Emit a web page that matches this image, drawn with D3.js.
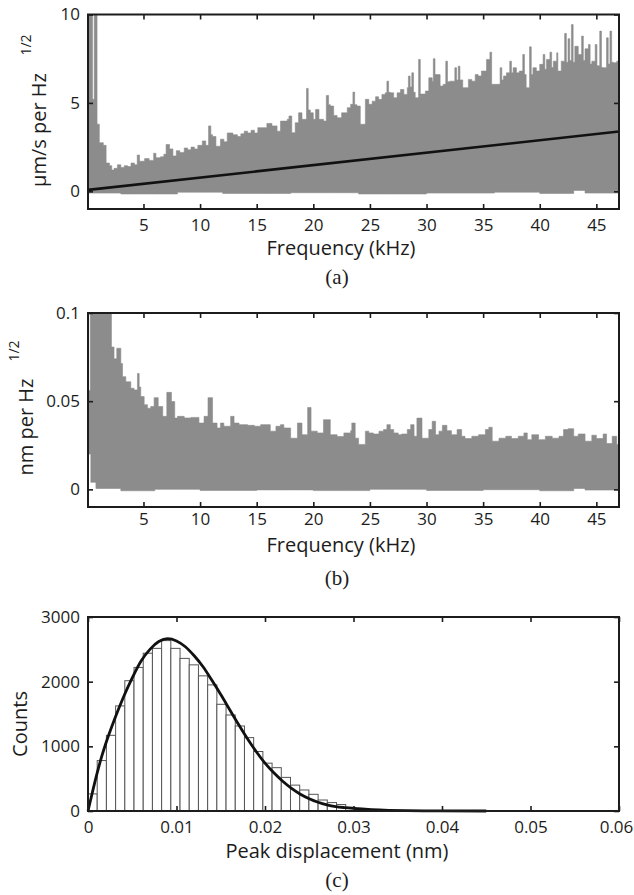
<!DOCTYPE html>
<html>
<head>
<meta charset="utf-8">
<script src="https://cdn.jsdelivr.net/npm/d3@7"></script>
<style>
  body { margin: 0; background: #fff; }
  text { font-family: "Open Sans", "DejaVu Sans", sans-serif; }
  text.cap { font-family: "Liberation Serif", "DejaVu Serif", serif; }
</style>
</head>
<body>
<svg id="fig" width="634" height="895"></svg>
<script>
// ---- data ----
// (a) velocity spectrum, upper / lower edge of the grey band [kHz, um/s per Hz^1/2]
const freqTicks = [5, 10, 15, 20, 25, 30, 35, 40, 45]
const velTicks = [0, 5, 10]
const velUpper = [[0.1,11],[0.5,5.2],[0.65,11],[0.9,3.8],[1.1,2.75],[1.45,2.6],[1.7,1.6],[2.0,1.45],[2.2,1.2],[2.4,1.3],[2.7,1.5],[3.0,1.35],[3.3,1.45],[3.6,1.4],[3.9,1.6],[4.2,1.5],[4.45,2.05],[4.65,1.7],[5.1,1.85],[5.5,1.75],[5.9,2.15],[6.1,1.9],[6.5,1.95],[6.8,2.1],[7.0,2.65],[7.3,2.4],[7.6,2.0],[7.9,2.3],[8.2,2.2],[8.6,2.45],[8.9,2.35],[9.2,2.5],[9.5,2.4],[9.8,2.6],[10.2,2.85],[10.5,2.6],[10.75,3.7],[10.95,3.2],[11.1,3.1],[11.4,2.55],[11.8,2.95],[12.1,2.8],[12.4,3.3],[12.9,3.2],[13.3,3.1],[13.6,3.25],[13.9,3.4],[14.2,3.3],[14.5,3.45],[14.8,3.3],[15.1,3.6],
  [15.47,3.6],[15.9,3.84],[16.35,3.7],[16.8,3.4],[17.1,3.97],[17.7,4.07],[17.85,4.26],[18.1,3.31],[18.4,3.88],[18.7,4.44],[19.0,4.07],[19.4,5.82],[19.55,4.6],[19.74,4.44],[20.0,4.07],[20.2,4.63],[20.5,4.07],[20.9,3.97],[21.15,5.42],[21.35,4.9],[21.5,4.82],[21.8,4.29],[22.1,4.16],[22.5,4.44],[23.0,4.73],[23.3,4.92],[23.5,5.61],[23.65,4.9],[23.85,4.82],[24.15,3.79],[24.6,5.2],[24.9,4.92],[25.2,5.1],[25.5,5.35],[25.76,5.2],[26.06,5.48],[26.35,5.57],[26.5,6.23],[26.65,5.6],[26.8,5.57],[27.1,5.29],[27.4,5.57],[27.7,5.76],[28.0,5.48],[28.3,5.86],[28.4,6.52],[28.55,5.9],[28.7,6.7],[28.85,5.6],[29.0,5.29],[29.3,7.46],[29.45,5.5],[29.9,5.67],[30.2,6.42],[30.5,6.23],[30.6,7.5],[30.75,6.6],[31.2,5.95],
  [31.47,6.05],[31.7,7.36],[31.85,6.2],[32.06,6.23],[32.5,6.99],[32.65,6.3],[32.8,7.08],[32.95,6.3],[33.2,5.86],[33.7,6.33],[34.0,6.23],[34.3,6.6],[34.56,6.52],[34.85,6.8],[35.3,7.46],[35.6,7.87],[35.75,6.05],[36.5,6.99],[36.65,6.3],[36.8,6.52],[37.06,6.7],[37.35,7.36],[37.5,6.7],[37.65,6.99],[37.94,6.7],[38.2,6.8],[38.5,7.74],[38.65,6.6],[38.8,5.86],[39.1,8.17],[39.25,6.6],[39.4,6.99],[39.7,6.8],[40.0,7.18],[40.3,7.74],[40.45,6.9],[40.6,7.46],[40.9,7.87],[41.05,7.0],[41.2,7.36],[41.5,7.83],[41.6,6.8],[41.9,7.36],[42.2,8.93],[42.35,7.3],[42.5,8.63],[42.65,7.4],[42.8,9.43],[42.95,7.3],[43.1,8.2],[43.4,7.74],[43.7,8.78],[43.85,7.4],[44.0,8.06],[44.3,8.3],[44.45,7.2],[44.6,7.36],[44.9,8.3],[45.05,7.1],[45.3,9.06],[45.45,7.0],[45.6,6.99],[45.9,8.68],[46.05,7.2],[46.2,9.06],[46.35,7.3],[46.5,7.27],[46.8,7.36],[47,7.36]]
const velLower = [[0.1,-0.1],[3,-0.15],[8,-0.05],[12,-0.12],[18,-0.08],[24,-0.15],[30,-0.1],[36,-0.05],[40,-0.12],[43,0.05],[44,-0.1],[47,-0.12]]
const velTrend = [[0.1,0.08],[47,3.38]]

// (b) displacement spectrum [kHz, nm per Hz^1/2]
const dispTicks = [0, 0.05, 0.1]
const dispUpper = [[0.1,0.056],[0.3,0.11],[2.17,0.0807],[2.4,0.074],[2.64,0.080],[3.0,0.0713],[3.15,0.0639],[3.44,0.061],[3.88,0.0573],[4.17,0.0564],[4.47,0.0657],[4.62,0.058],[4.76,0.0526],[5.06,0.048],[5.35,0.046],[5.64,0.047],[5.94,0.052],[6.3,0.047],[6.7,0.0414],[7.06,0.055],[7.47,0.0498],[7.76,0.0404],[8.0,0.0414],[8.6,0.0405],[9.2,0.0408],[9.9,0.0376],[10.35,0.0414],[10.7,0.052],[11.1,0.0376],[11.5,0.0348],[11.8,0.0376],[12.1,0.0358],[12.7,0.0414],[13.0,0.0376],[13.44,0.0367],[14.2,0.0363],[14.8,0.0358],[15.35,0.0367],[16.2,0.033],[16.7,0.0358],[17.1,0.0367],[17.4,0.0348],[18.0,0.029],[18.6,0.0376],[19.0,0.031],[19.5,0.0464],[19.8,0.033],[20.35,0.032],[20.9,0.0395],[21.5,0.031],[22.1,0.030],[22.7,0.032],[23.3,0.0333],[23.4,0.0376],[23.7,0.029],[24.0,0.0255],[24.6,0.033],[24.9,0.032],[25.3,0.0314],[25.8,0.033],[26.2,0.0339],[26.5,0.0367],[26.8,0.0339],[27.1,0.032],[27.5,0.031],[27.8,0.0314],[28.3,0.0339],[28.6,0.0367],[28.9,0.0301],[29.15,0.0404],[29.6,0.029],[30.2,0.0339],[30.5,0.0386],[30.8,0.031],[31.1,0.033],[31.4,0.0363],[31.8,0.0333],[32.2,0.031],[32.7,0.0339],[33.1,0.0301],[33.4,0.0288],[34.0,0.0301],[34.6,0.031],[35.2,0.0339],[35.5,0.0352],[35.8,0.0273],[36.4,0.029],[37.0,0.0301],[37.5,0.0288],[38.1,0.0301],[38.6,0.032],[38.9,0.0282],[39.3,0.031],[39.9,0.0282],[40.5,0.0301],[41.1,0.029],[41.7,0.0301],[42.1,0.0339],[42.5,0.0344],[43.0,0.0301],[43.4,0.0314],[44.0,0.0273],[44.6,0.0307],[45.0,0.0288],[45.6,0.0314],[45.9,0.026],[46.4,0.0301],[46.8,0.0255],[47,0.0255]]
const dispLower = [[0.1,0.02],[0.35,0.004],[0.8,0.0005],[3,-0.0008],[6,0],[10,-0.0006],[15,-0.0003],[20,-0.0007],[25,0],[30,-0.0006],[35,-0.0002],[40,-0.0008],[43,0.0005],[44,-0.0004],[47,-0.0004]]

// (c) histogram of peak displacement
const peakTicks = [0, 0.01, 0.02, 0.03, 0.04, 0.05, 0.06]
const countTicks = [0, 1000, 2000, 3000]
const binStart = 0
const binWidth = 0.00104
const binCounts = [265,780,1170,1625,2015,2220,2440,2515,2635,2515,2360,2260,2090,1950,1650,1485,1315,1135,920,740,670,520,400,325,258,170,130,100,57,36,25,15,9,5,3]
const fitCurve = [[0,0],[0.0005,290],[0.001,570],[0.0015,820],[0.002,1040],[0.003,1420],[0.004,1760],[0.005,2060],[0.006,2320],[0.007,2500],[0.008,2620],[0.009,2665],[0.010,2630],[0.011,2540],[0.012,2400],[0.013,2230],[0.014,2020],[0.015,1800],[0.016,1570],[0.017,1340],[0.018,1120],[0.019,920],[0.020,740],[0.021,590],[0.022,460],[0.023,350],[0.024,260],[0.025,190],[0.026,135],[0.027,95],[0.028,68],[0.029,52],[0.030,40],[0.032,22],[0.034,11],[0.036,5],[0.038,2],[0.040,1],[0.045,0]]

// ---- drawing ----
const svg = d3.select("#fig")
const left = 88, right = 619
const ink = "#1c1c1c", band = "#8c8c8c"

function styleAxis(sel) {
    sel.select(".domain").remove()
    sel.selectAll("line").attr("stroke", ink).attr("stroke-width", 1.6)
    sel.selectAll("text").attr("font-size", 17).attr("fill", ink)
}

function axes(g, x, y, xt, yt, top, bottom, xPad) {
    const bottomAxis = g.append("g").attr("transform", `translate(0,${bottom})`)
        .call(d3.axisBottom(x).tickValues(xt).tickSize(-5).tickPadding(xPad).tickFormat(d => String(d))).call(styleAxis)
    // last label sits against the page edge, nudge it in like the original
    bottomAxis.selectAll(".tick text").filter((d, i, n) => i === n.length - 1 && x(d) > right - 2).attr("dx", -3)
    g.append("g").attr("transform", `translate(0,${top})`)
        .call(d3.axisTop(x).tickValues(xt).tickSize(-5).tickFormat("")).call(styleAxis)
    g.append("g").attr("transform", `translate(${left},0)`)
        .call(d3.axisLeft(y).tickValues(yt).tickSize(-5).tickPadding(8).tickFormat(d => String(d))).call(styleAxis)
    g.append("g").attr("transform", `translate(${right},0)`)
        .call(d3.axisRight(y).tickValues(yt).tickSize(-5).tickFormat("")).call(styleAxis)
    g.append("rect")
        .attr("x", left).attr("y", top).attr("width", right - left).attr("height", bottom - top)
        .attr("fill", "none").attr("stroke", ink).attr("stroke-width", 2)
}

function labels(g, p) {
    g.append("text").attr("x", p.titleX).attr("y", p.titleY).attr("text-anchor", "middle")
        .attr("font-size", 20).attr("fill", ink).text(p.title)
    g.append("text").attr("class", "cap").attr("x", 337).attr("y", p.capY).attr("text-anchor", "middle")
        .attr("font-size", 21).attr("fill", ink).text(p.cap)
    g.append("text").attr("transform", `translate(${p.yLabX},${p.yLabY}) rotate(-90)`).attr("text-anchor", "middle")
        .attr("font-size", 20).attr("fill", ink).text(p.yLab)
    if (p.sup) {
        g.append("text").attr("transform", `translate(${p.supX},${p.supY}) rotate(-90)`).attr("text-anchor", "middle")
            .attr("font-size", 14).attr("fill", ink).text(p.sup)
    }
}

function spectrum(p) {
    const g = svg.append("g")
    const x = d3.scaleLinear().domain([0.1, 47]).range([left, right])
    const y = d3.scaleLinear().domain(p.yDomain).range([p.bottom, p.top])
    const clipId = "clip-" + p.cap.replace(/\W/g, "")
    g.append("clipPath").attr("id", clipId).append("rect")
        .attr("x", left).attr("y", p.top).attr("width", right - left).attr("height", p.bottom - p.top)

    // put upper and lower edges on one frequency grid (both are step functions)
    const bis = d3.bisector(d => d[0]).right
    const at = (arr, f) => arr[Math.max(0, bis(arr, f) - 1)][1]
    const grid = Array.from(new Set(p.upper.map(d => d[0]).concat(p.lower.map(d => d[0])))).sort((a, b) => a - b)
    const pts = grid.map(f => [f, at(p.upper, f), at(p.lower, f)])

    const area = d3.area().curve(d3.curveStepAfter)
        .x(d => x(d[0])).y0(d => y(d[2])).y1(d => y(d[1]))
    g.append("path").datum(pts).attr("clip-path", `url(#${clipId})`)
        .attr("d", area).attr("fill", band).attr("stroke", band).attr("stroke-width", 0.6)

    if (p.trend) {
        g.append("path").datum(p.trend).attr("clip-path", `url(#${clipId})`)
            .attr("d", d3.line().x(d => x(d[0])).y(d => y(d[1])))
            .attr("fill", "none").attr("stroke", "#111").attr("stroke-width", 2.6)
    }
    axes(g, x, y, freqTicks, p.yTicks, p.top, p.bottom, p.xPad)
    labels(g, p)
}

spectrum({
    top: 14.5, bottom: 209, yDomain: [-1, 10], yTicks: velTicks,
    upper: velUpper, lower: velLower, trend: velTrend, xPad: 10,
    title: "Frequency (kHz)", titleX: 341, titleY: 255, cap: "(a)", capY: 284,
    yLab: "\u00b5m/s per Hz", yLabX: 46, yLabY: 130, sup: "1/2", supX: 31, supY: 45
})

spectrum({
    top: 313, bottom: 507, yDomain: [-0.01, 0.1], yTicks: dispTicks,
    upper: dispUpper, lower: dispLower, xPad: 6,
    title: "Frequency (kHz)", titleX: 341, titleY: 552, cap: "(b)", capY: 585,
    yLab: "nm per Hz", yLabX: 33, yLabY: 427, sup: "1/2", supX: 19, supY: 351
})

// histogram panel
{
    const top = 617, bottom = 811
    const g = svg.append("g")
    const x = d3.scaleLinear().domain([0, 0.06]).range([left, right])
    const y = d3.scaleLinear().domain([0, 3000]).range([bottom, top])

    g.selectAll("rect.bin").data(binCounts).join("rect").attr("class", "bin")
        .attr("x", (d, i) => x(binStart + i * binWidth))
        .attr("width", x(binWidth) - x(0))
        .attr("y", d => y(d))
        .attr("height", d => y(0) - y(d))
        .attr("fill", "#fff").attr("stroke", "#555").attr("stroke-width", 1)

    g.append("path").datum(fitCurve)
        .attr("d", d3.line().curve(d3.curveMonotoneX).x(d => x(d[0])).y(d => y(d[1])))
        .attr("fill", "none").attr("stroke", "#111").attr("stroke-width", 2.8)

    axes(g, x, y, peakTicks, countTicks, top, bottom, 10)
    labels(g, {
        title: "Peak displacement (nm)", titleX: 337, titleY: 858, cap: "(c)", capY: 887,
        yLab: "Counts", yLabX: 27, yLabY: 724
    })
}
</script>
</body>
</html>
